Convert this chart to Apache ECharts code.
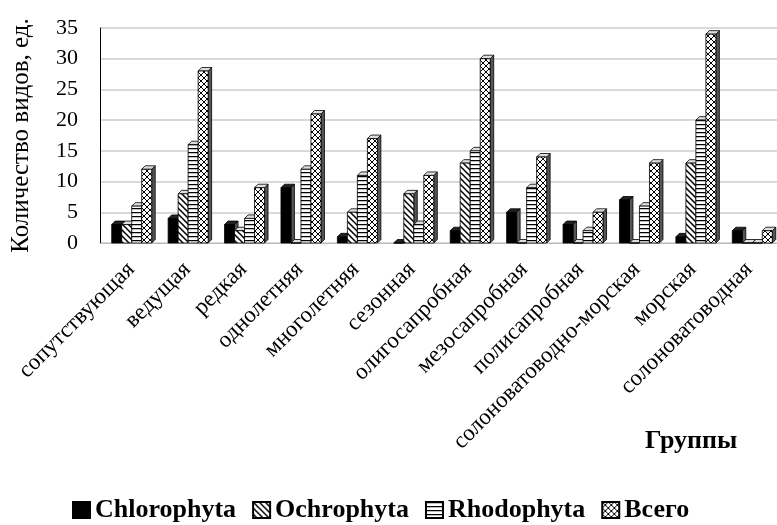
<!DOCTYPE html>
<html><head><meta charset="utf-8">
<script src="https://cdn.jsdelivr.net/npm/echarts@6/dist/echarts.min.js"></script>
<style>html,body{margin:0;padding:0;background:#fff}#c{width:777px;height:525px}</style>
</head><body><div id="c"></div>
<script>
const categories = ['сопутствующая','ведущая','редкая','однолетняя','многолетняя','сезонная','олигосапробная','мезосапробная','полисапробная','солоноватоводно-морская','морская','солоноватоводная'];
const seriesNames = ['Chlorophyta','Ochrophyta','Rhodophyta','Всего'];
const chlorophyta = [3,4,3,9,1,0,2,5,3,7,1,2];
const ochrophyta  = [3,8,2,0,5,8,13,0,0,0,13,0];
const rhodophyta  = [6,16,4,12,11,3,15,9,2,6,20,0];
const vsego       = [12,28,9,21,17,11,30,14,5,13,34,2];
const yTicks = [0,5,10,15,20,25,30,35];

function pat(kind){
  const c = document.createElement('canvas');
  const s = kind==='h'?4:6;
  c.width = s; c.height = s;
  const g = c.getContext('2d');
  g.fillStyle = '#fff'; g.fillRect(0,0,s,s);
  g.strokeStyle = '#000'; g.lineWidth = 1.5;
  if(kind==='h'){ g.beginPath(); g.moveTo(0,0.5); g.lineTo(s,0.5); g.stroke(); }
  if(kind==='d'){ g.beginPath(); g.moveTo(-1,-1); g.lineTo(s+1,s+1); g.moveTo(-1,s-1);g.lineTo(1,s+1); g.moveTo(s-1,-1);g.lineTo(s+1,1); g.stroke(); }
  if(kind==='x'){ g.lineWidth=1; g.beginPath(); g.moveTo(0,0); g.lineTo(s,s); g.moveTo(s,0); g.lineTo(0,s); g.stroke(); }
  return {image:c, repeat:'repeat'};
}
const fills = [ '#000', pat('d'), pat('h'), pat('x') ];
const dataArr = [chlorophyta, ochrophyta, rhodophyta, vsego];
const BW = 10, D = 3.5;

function makeRender(si){
  return function(params, api){
    const cat = api.value(0), val = api.value(1);
    const p0 = api.coord([cat, 0]);
    const p1 = api.coord([cat, val]);
    const x0 = p0[0] - 2*BW + si*BW + 3.5;
    const yb = p0[1], yt = p1[1];
    const fill = fills[si];
    return {
      type:'group',
      children:[
        {type:'polygon', shape:{points:[[x0+BW,yt],[x0+BW+D,yt-D],[x0+BW+D,yb-D],[x0+BW,yb]]}, style:{fill:'#555', stroke:'#000', lineWidth:0.8}},
        {type:'polygon', shape:{points:[[x0,yt],[x0+D,yt-D],[x0+BW+D,yt-D],[x0+BW,yt]]}, style:{fill: si===0?'#222':'#ddd', stroke:'#000', lineWidth:0.8}},
        {type:'rect', shape:{x:x0, y:yt, width:BW, height:Math.max(yb-yt,0)}, style:{fill:fill, stroke:'#000', lineWidth:0.8}}
      ]
    };
  };
}

const chart = echarts.init(document.getElementById('c'), null, {renderer:'canvas'});
const serif = 'Liberation Serif, Times New Roman, serif';
chart.setOption({
  animation:false,
  grid:[{left:100, right:0, top:28, bottom:282, containLabel:false},
        {left:103, right:-3, top:28, bottom:282, containLabel:false}],
  xAxis:[
    {type:'category', gridIndex:0, data:categories, axisLine:{show:true, lineStyle:{color:'#bbb', width:1}}, axisTick:{show:false}, axisLabel:{show:false}, splitLine:{show:false}},
    {type:'category', gridIndex:1, data:categories, axisLine:{show:false}, axisTick:{show:false},
      axisLabel:{interval:0, rotate:45, margin:23, fontFamily:serif, fontSize:23, color:'#000'}}
  ],
  yAxis:[
    {type:'value', gridIndex:0, min:0, max:35, interval:5,
      name:'Количество видов, ед.', nameLocation:'middle', nameGap:66, nameRotate:90,
      nameTextStyle:{fontFamily:serif, fontSize:25, color:'#000'},
      axisLine:{show:true, lineStyle:{color:'#000', width:1}}, axisTick:{show:false},
      axisLabel:{fontFamily:serif, fontSize:22, color:'#000', margin:22, customValues: yTicks},
      splitLine:{show:true, lineStyle:{color:'#d9d9d9', width:2}}},
    {type:'value', gridIndex:1, show:false, min:0, max:35}
  ],
  legend:{left:67, top:492, itemWidth:17, itemHeight:16, itemGap:16, icon:'rect',
    textStyle:{fontFamily:serif, fontSize:26, fontWeight:'bold', color:'#000'}, data:seriesNames},
  graphic:[{type:'text', left:645, top:428, style:{text:'Группы', font:'bold 26px '+serif, fill:'#000'}}],
  series: dataArr.map((arr, si)=>({
    name: seriesNames[si], type:'custom', xAxisIndex:0, yAxisIndex:0,
    itemStyle:{color: fills[si], borderColor:'#000', borderWidth:1},
    renderItem: makeRender(si),
    encode:{x:0, y:1},
    data: arr.map((v,i)=>[i,v])
  }))
});
</script></body></html>
